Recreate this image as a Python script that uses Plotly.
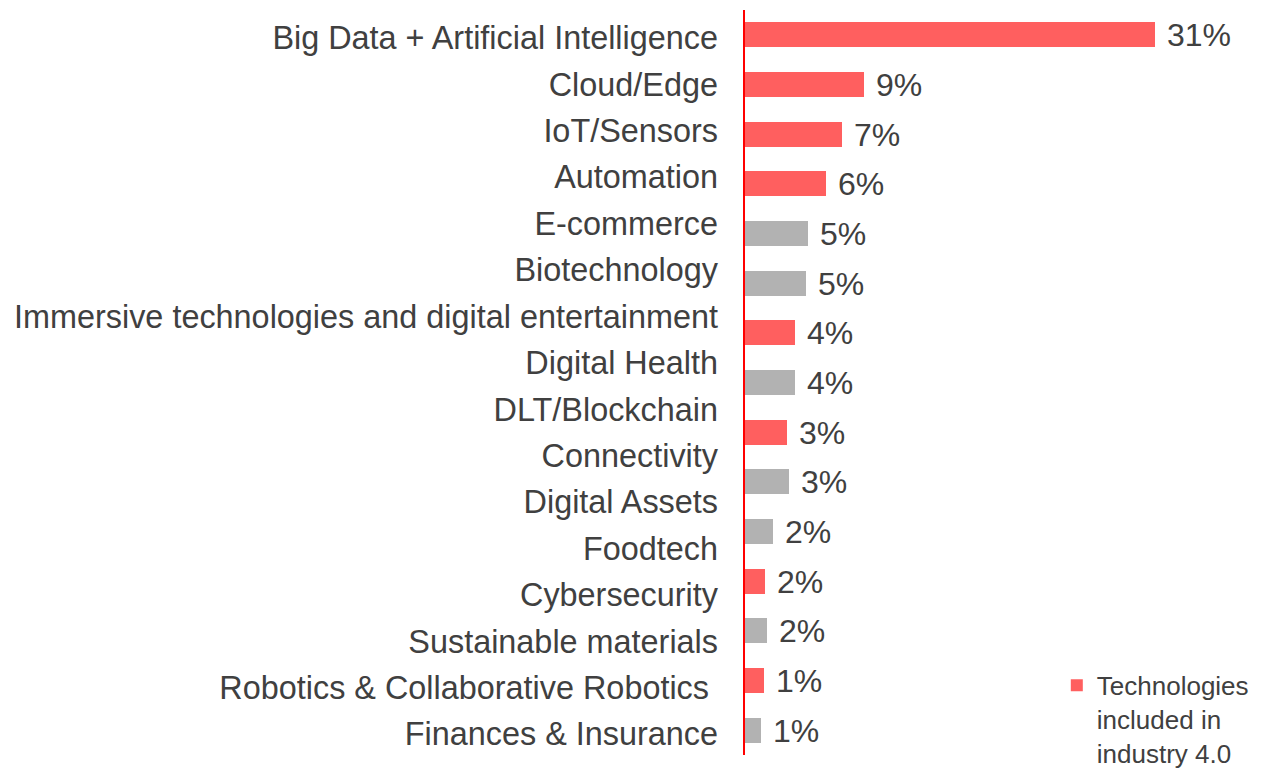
import plotly.graph_objects as go

# Category labels (as printed on the left axis)
categories = [
    "Big Data + Artificial Intelligence",
    "Cloud/Edge",
    "IoT/Sensors",
    "Automation",
    "E-commerce",
    "Biotechnology",
    "Immersive technologies and digital entertainment",
    "Digital Health",
    "DLT/Blockchain",
    "Connectivity",
    "Digital Assets",
    "Foodtech",
    "Cybersecurity",
    "Sustainable materials",
    "Robotics & Collaborative Robotics ",
    "Finances & Insurance",
]

# Bar values (% share), top to bottom, as drawn
values = [31.0, 9.0, 7.3, 6.1, 4.8, 4.6, 3.8, 3.8, 3.2, 3.3, 2.1, 1.5, 1.7, 1.4, 1.2]
value_labels = ["31%", "9%", "7%", "6%", "5%", "5%", "4%", "4%", "3%", "3%",
                "2%", "2%", "2%", "1%", "1%"]
industry40 = [1, 1, 1, 1, 0, 0, 1, 0, 1, 0, 0, 1, 0, 1, 0]

RED = "#FF5F5F"
GRAY = "#B2B2B2"
TXT = "#404040"
FONT = "Liberation Sans, Arial, sans-serif"

idx = list(range(len(values)))
red_i = [i for i in idx if industry40[i]]
gray_i = [i for i in idx if not industry40[i]]

fig = go.Figure()
fig.add_trace(go.Bar(
    x=[values[i] for i in red_i], y=red_i, orientation="h",
    marker=dict(color=RED, line=dict(width=0)), width=0.5,
    text=[" " + value_labels[i] for i in red_i], textposition="outside",
    textfont=dict(size=32, color=TXT, family=FONT), cliponaxis=False,
    constraintext="none",
    name="Technologies<br>included in<br>industry 4.0", showlegend=True,
    yaxis="y",
))
fig.add_trace(go.Bar(
    x=[values[i] for i in gray_i], y=gray_i, orientation="h",
    marker=dict(color=GRAY, line=dict(width=0)), width=0.5,
    text=[" " + value_labels[i] for i in gray_i], textposition="outside",
    textfont=dict(size=32, color=TXT, family=FONT), cliponaxis=False,
    constraintext="none",
    name="Other", showlegend=False, yaxis="y",
))
# invisible trace to register the label axis categories
fig.add_trace(go.Scatter(
    x=[0] * len(categories), y=categories, yaxis="y2", mode="markers",
    marker=dict(opacity=0), showlegend=False, hoverinfo="skip",
))

fig.update_layout(
    width=1270, height=763,
    margin=dict(l=737, r=0, t=2, b=16, autoexpand=False),
    paper_bgcolor="white", plot_bgcolor="white",
    barmode="overlay",
    font=dict(family=FONT, color=TXT),
    xaxis=dict(range=[0, 40.3], visible=False, fixedrange=True),
    yaxis=dict(range=[len(values) - 0.5, -0.5], showline=True, linecolor="#FF0000",
               linewidth=2, showticklabels=False, showgrid=False, zeroline=False,
               ticks=""),
    yaxis2=dict(overlaying="y", side="left", anchor="x", type="category",
                categoryorder="array", categoryarray=categories,
                range=[15.45, -0.60], showline=False, showgrid=False,
                zeroline=False, ticks="", ticklabelstandoff=26,
                tickfont=dict(size=32.4, color=TXT, family=FONT)),
    showlegend=True,
    legend=dict(x=0.585, y=0.125, xanchor="left", yanchor="top", valign="top",
                bgcolor="rgba(0,0,0,0)", font=dict(size=26, color=TXT, family=FONT),
                itemsizing="constant"),
    bargap=0,
)

fig.write_html("out.html")
